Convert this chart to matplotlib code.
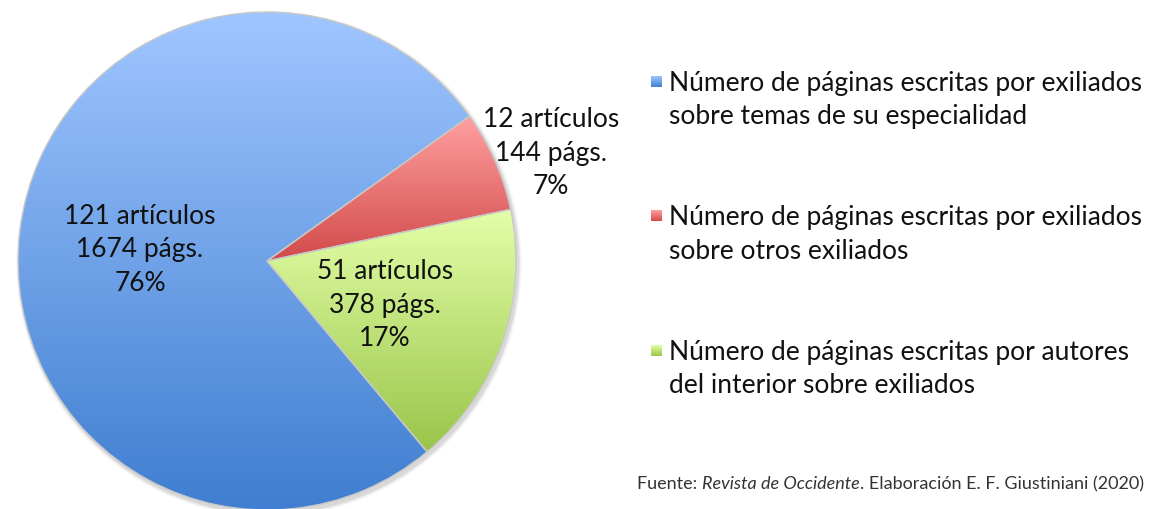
import matplotlib.pyplot as plt
import matplotlib.patches as mpatches
from matplotlib.colors import LinearSegmentedColormap
import numpy as np

plt.rcParams['font.family'] = ['Lato', 'DejaVu Sans']

# data
paginas = [1674, 144, 378]
articulos = [121, 12, 51]
porcentajes = ['76%', '7%', '17%']
categorias = ['Número de páginas escritas por exiliados\nsobre temas de su especialidad',
              'Número de páginas escritas por exiliados\nsobre otros exiliados',
              'Número de páginas escritas por autores\ndel interior sobre exiliados']
grad_top = ['#a0c6ff', '#ffa0a0', '#e4ffa8']
grad_bot = ['#3f7ed0', '#d24a4a', '#98c54a']

W, H = 1163, 510
fig = plt.figure(figsize=(W / 100, H / 100), dpi=100)
ax = fig.add_axes([0, 0, 1, 1])

cx, cy, R = 267, 248, 249

# soft shadow
for k, a in enumerate([0.06, 0.045, 0.03, 0.02]):
    ax.add_patch(mpatches.Circle((cx + 2, cy - 3), R + 1 + k, color='black',
                                 alpha=a, lw=0, zorder=0))

wedges, _ = ax.pie(paginas, center=(cx, cy), radius=R, startangle=-50,
                   counterclock=False, colors=['none'] * 3,
                   wedgeprops=dict(edgecolor='#c8c8c8', linewidth=1.0))
for w in wedges:
    w.set_zorder(3)

grad = np.linspace(0, 1, 256).reshape(-1, 1)
for w, c0, c1 in zip(wedges, grad_top, grad_bot):
    w.set_facecolor('none')
    bb = w.get_path().get_extents()
    cmap = LinearSegmentedColormap.from_list('g', [c0, c1])
    im = ax.imshow(grad, cmap=cmap, aspect='auto', origin='upper',
                   extent=(bb.x0, bb.x1, bb.y0, bb.y1), zorder=2)
    im.set_clip_path(w)

FS = 19
LS = 1.42

# labels on slices
lab_pos = [(140, 260), (551, 357), (385, 205)]
for (x, y), n, p, pc in zip(lab_pos, articulos, paginas, porcentajes):
    ax.text(x, y, f'{n} artículos\n{p} págs.\n{pc}', ha='center', va='center',
            fontsize=FS, color='#111111', linespacing=LS, zorder=5)

# legend
leg_c = [410, 275.5, 141]
for y, c0, c1, t in zip(leg_c, grad_top, grad_bot, categorias):
    sq = mpatches.Rectangle((651, y + 12.5), 11, 11, facecolor='none', lw=0, zorder=4)
    ax.add_patch(sq)
    cmap = LinearSegmentedColormap.from_list('g', [c0, c1])
    im = ax.imshow(grad, cmap=cmap, aspect='auto', origin='upper',
                   extent=(651, 662, y + 12.5, y + 23.5), zorder=3)
    im.set_clip_path(sq)
    ax.text(669, y, t, ha='left', va='center', fontsize=FS, color='#111111',
            linespacing=LS, zorder=5)

# source note, with italic title
fig.canvas.draw()
r = fig.canvas.get_renderer()
fs2 = 13
yb = 21
t0 = ax.text(637, yb, 'Fuente: ', fontsize=fs2, color='#333333', va='baseline')
x = 637 + t0.get_window_extent(r).width
t2 = ax.text(x, yb, 'Revista de Occidente', fontsize=fs2, color='#333333',
             va='baseline', style='italic')
x += t2.get_window_extent(r).width
ax.text(x, yb, '. Elaboración E. F. Giustiniani (2020)', fontsize=fs2,
        color='#333333', va='baseline')

ax.set_xlim(0, W)
ax.set_ylim(0, H)
ax.set_aspect('auto')
ax.axis('off')

fig.savefig('out.png', dpi=100)
